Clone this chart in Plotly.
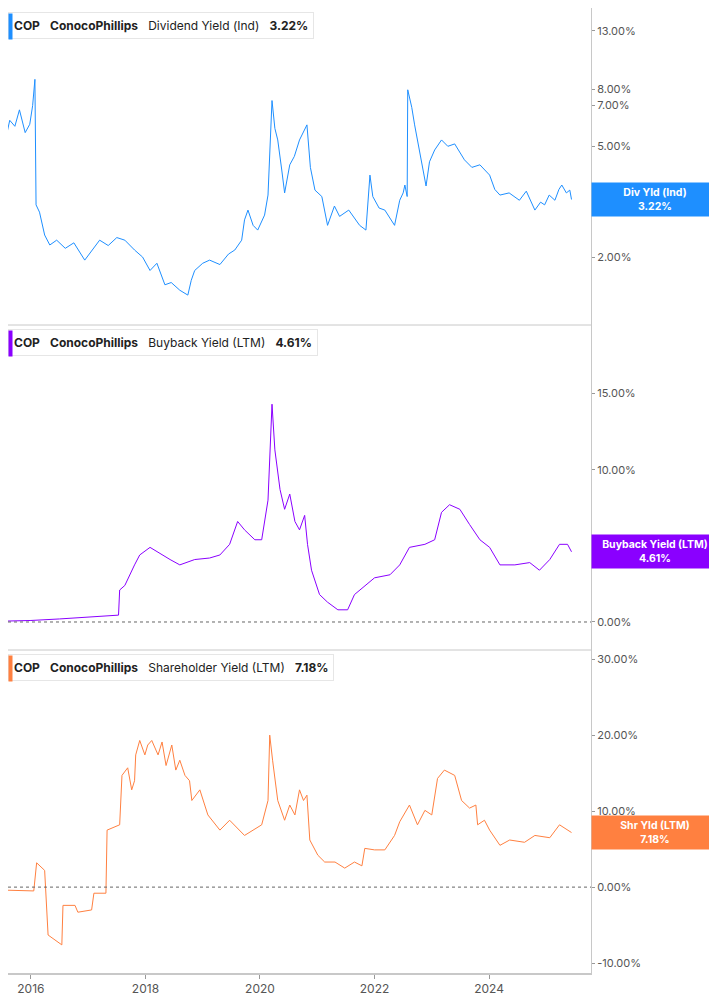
import plotly.graph_objects as go
from plotly.subplots import make_subplots
import math

# Dividend yield (Ind), % -- decimal years
div_t = [2015.46, 2015.55, 2015.63, 2015.72, 2015.8, 2015.9, 2015.98, 2016.03, 2016.07, 2016.09, 2016.15,
         2016.24, 2016.33, 2016.45, 2016.6, 2016.75, 2016.94, 2017.05, 2017.2, 2017.35, 2017.5, 2017.64,
         2017.81, 2017.95, 2018.08, 2018.2, 2018.34, 2018.45, 2018.6, 2018.74, 2018.8, 2018.86, 2019.0,
         2019.12, 2019.3, 2019.45, 2019.56, 2019.68, 2019.73, 2019.79, 2019.88, 2019.96, 2020.08, 2020.14,
         2020.17, 2020.21, 2020.26, 2020.31, 2020.38, 2020.43, 2020.52, 2020.6, 2020.69, 2020.82, 2020.88,
         2020.96, 2021.08, 2021.18, 2021.3, 2021.39, 2021.55, 2021.74, 2021.85, 2021.92, 2021.97, 2022.08,
         2022.18, 2022.35, 2022.44, 2022.5, 2022.53, 2022.57, 2022.58, 2022.65, 2022.7, 2022.84, 2022.9,
         2022.96, 2023.05, 2023.17, 2023.28, 2023.4, 2023.5, 2023.57, 2023.7, 2023.84, 2024.01, 2024.1,
         2024.19, 2024.35, 2024.53, 2024.65, 2024.8, 2024.9, 2024.97, 2025.05, 2025.15, 2025.22, 2025.27,
         2025.35, 2025.41, 2025.44]
div_v = [4.65, 5.2, 6.2, 5.9, 6.76, 5.6, 6.0, 7.0, 8.7, 3.08, 2.9,
         2.4, 2.21, 2.3, 2.15, 2.25, 1.95, 2.1, 2.3, 2.2, 2.35, 2.3,
         2.12, 2.0, 1.79, 1.9, 1.59, 1.62, 1.52, 1.46, 1.65, 1.79, 1.9,
         1.95, 1.88, 2.05, 2.12, 2.3, 2.72, 2.95, 2.6, 2.5, 2.83, 3.34,
         4.5, 7.3, 5.8, 5.27, 4.11, 3.4, 4.29, 4.6, 5.27, 5.97, 4.2,
         3.48, 3.3, 2.6, 3.05, 2.8, 2.95, 2.6, 2.5, 3.94, 3.3, 3.0,
         2.95, 2.6, 3.2, 3.4, 3.63, 3.3, 7.98, 6.9, 5.97, 4.11, 3.6,
         4.4, 4.85, 5.27, 5.0, 5.1, 4.7, 4.47, 4.2, 4.29, 3.94, 3.5,
         3.34, 3.4, 3.2, 3.45, 2.95, 3.15, 3.08, 3.34, 3.2, 3.5, 3.63,
         3.4, 3.48, 3.22]

# Buyback yield (LTM), %
bb_t = [2015.46, 2016.0, 2016.5, 2017.0, 2017.29, 2017.53, 2017.55, 2017.64, 2017.81, 2017.9, 2018.08,
        2018.25, 2018.43, 2018.6, 2018.86, 2019.12, 2019.3, 2019.47, 2019.61, 2019.73, 2019.91, 2020.03,
        2020.14, 2020.21, 2020.26, 2020.35, 2020.43, 2020.52, 2020.61, 2020.69, 2020.78, 2020.83, 2020.9,
        2021.04, 2021.18, 2021.36, 2021.53, 2021.65, 2021.83, 2022.0, 2022.27, 2022.44, 2022.61, 2022.88,
        2023.05, 2023.17, 2023.31, 2023.49, 2023.66, 2023.84, 2024.01, 2024.19, 2024.45, 2024.71, 2024.88,
        2025.06, 2025.23, 2025.37, 2025.44]
bb_v = [0.05, 0.1, 0.2, 0.3, 0.4, 0.45, 2.1, 2.4, 3.75, 4.4, 4.9,
        4.5, 4.1, 3.75, 4.1, 4.2, 4.4, 5.1, 6.6, 6.05, 5.4, 5.4,
        8.0, 14.3, 11.3, 8.7, 7.4, 8.4, 6.6, 6.05, 7.0, 5.1, 3.4,
        1.8, 1.3, 0.8, 0.8, 1.8, 2.4, 2.9, 3.1, 3.75, 4.9, 5.1,
        5.4, 7.2, 7.7, 7.4, 6.4, 5.4, 4.9, 3.75, 3.75, 3.9, 3.4,
        4.1, 5.1, 5.1, 4.61]

# Shareholder yield (LTM), %
sh_t = [2015.46, 2015.55, 2015.56, 2016.05, 2016.1, 2016.24, 2016.3, 2016.42, 2016.54, 2016.56, 2016.77,
        2016.82, 2017.06, 2017.1, 2017.31, 2017.33, 2017.55, 2017.59, 2017.69, 2017.76, 2017.81, 2017.83,
        2017.9, 2017.99, 2018.04, 2018.11, 2018.22, 2018.29, 2018.36, 2018.46, 2018.53, 2018.6, 2018.69,
        2018.77, 2018.81, 2018.95, 2019.09, 2019.3, 2019.47, 2019.73, 2020.03, 2020.14, 2020.17, 2020.22,
        2020.31, 2020.43, 2020.52, 2020.61, 2020.69, 2020.76, 2020.82, 2020.87, 2021.01, 2021.13, 2021.31,
        2021.48, 2021.65, 2021.78, 2021.83, 2022.0, 2022.18, 2022.35, 2022.44, 2022.61, 2022.75, 2022.88,
        2023.0, 2023.1, 2023.22, 2023.4, 2023.52, 2023.66, 2023.77, 2023.8, 2023.92, 2024.01, 2024.19,
        2024.36, 2024.62, 2024.8, 2025.06, 2025.23, 2025.37, 2025.44]
sh_v = [2.9, 3.3, -0.4, -0.5, 3.2, 2.2, -6.3, -7.0, -7.6, -2.4, -2.4,
        -3.3, -3.0, -0.8, -0.8, 7.5, 8.2, 14.7, 15.7, 12.8, 14.0, 17.4,
        19.3, 17.4, 18.7, 19.3, 17.4, 19.1, 16.0, 18.7, 15.4, 16.7, 14.7,
        14.0, 11.4, 12.8, 9.5, 7.5, 8.8, 6.8, 8.2, 11.4, 20.0, 16.7,
        11.4, 8.8, 10.8, 9.5, 12.8, 11.4, 12.1, 6.2, 4.2, 3.3, 3.3,
        2.5, 3.3, 2.8, 5.1, 4.9, 4.9, 6.8, 8.6, 10.8, 8.2, 10.1,
        9.5, 14.3, 15.4, 14.7, 11.4, 10.4, 10.8, 8.2, 8.8, 7.5, 5.5,
        6.2, 5.9, 6.8, 6.5, 8.2, 7.5, 7.18]

div_ticks = [2, 3, 5, 7, 8, 13]
bb_ticks = [0, 5, 10, 15]
sh_ticks = [-10, 0, 10, 20, 30]
year_ticks = [2016, 2018, 2020, 2022, 2024]

DIV_C = "#1e8fff"
BB_C = "#8a00ff"
SH_C = "#ff8040"
GRID = "#c8c8c8"
TXT = "#555555"


def pct(vals):
    return [f"{v:.2f}%" for v in vals]


fig = make_subplots(rows=3, cols=1, shared_xaxes=True, vertical_spacing=0.0)
fig.add_trace(go.Scatter(x=div_t, y=div_v, mode="lines", line=dict(color=DIV_C, width=1)), row=1, col=1)
fig.add_trace(go.Scatter(x=bb_t, y=bb_v, mode="lines", line=dict(color=BB_C, width=1)), row=2, col=1)
fig.add_trace(go.Scatter(x=sh_t, y=sh_v, mode="lines", line=dict(color=SH_C, width=1)), row=3, col=1)

doms = [[0.6715, 1.0], [0.3347, 0.6715], [0.0, 0.3347]]
yax = dict(side="right", showgrid=False, zeroline=False, showline=True, linecolor=GRID,
           ticks="outside", ticklen=3, tickcolor="#999",
           tickfont=dict(size=11, color=TXT, family="Inter"))
fig.update_layout(
    yaxis=dict(yax, domain=doms[0], type="log", range=[math.log10(1.14), math.log10(15.7)],
               tickvals=div_ticks, ticktext=pct(div_ticks)),
    yaxis2=dict(yax, domain=doms[1], range=[-1.84, 19.5], tickvals=bb_ticks, ticktext=pct(bb_ticks)),
    yaxis3=dict(yax, domain=doms[2], range=[-11.3, 31.2], tickvals=sh_ticks, ticktext=pct(sh_ticks)),
)
fig.update_xaxes(range=[2015.6, 2025.78], showgrid=False, zeroline=False, showline=True,
                 linecolor=GRID, linewidth=2, ticks="outside", tickcolor="#999", ticklen=4,
                 tickvals=year_ticks, ticktext=[str(y) for y in year_ticks],
                 tickfont=dict(size=12, color=TXT, family="Inter"))
fig.update_xaxes(showline=False, ticks="", row=1, col=1)
fig.update_xaxes(showline=False, ticks="", row=2, col=1)

# panel separators and zero lines
for yb in [doms[0][0], doms[1][0]]:
    fig.add_shape(type="line", xref="paper", yref="paper", x0=0, x1=1, y0=yb, y1=yb,
                  line=dict(color=GRID, width=1))
for r in [2, 3]:
    fig.add_hline(y=0, line=dict(color="#666", width=1, dash="dot"), row=r, col=1)

titles = [("Dividend Yield (Ind)", "3.22%", DIV_C, "Div Yld (Ind)", div_v[-1], "y"),
          ("Buyback Yield (LTM)", "4.61%", BB_C, "Buyback Yield (LTM)", bb_v[-1], "y2"),
          ("Shareholder Yield (LTM)", "7.18%", SH_C, "Shr Yld (LTM)", sh_v[-1], "y3")]
for (name, val, col, short, last, yr), dom in zip(titles, doms):
    fig.add_annotation(xref="paper", yref="paper", x=0.0, y=dom[1] - 0.004, xanchor="left", yanchor="top",
                       text=f"<b>COP</b>   <b>ConocoPhillips</b>   {name}   <b>{val}</b>",
                       showarrow=False, bgcolor="white", bordercolor="#e6e6e6", borderwidth=1, borderpad=5,
                       font=dict(size=12, color="#222", family="Inter"))
    # coloured marker bar at the left of the header box
    fig.add_annotation(xref="paper", yref="paper", x=0.0, y=dom[1] - 0.005, xanchor="left", yanchor="top",
                       text=" ", showarrow=False, bgcolor=col, width=3, height=25, borderpad=0,
                       font=dict(size=2))
    ly = math.log10(last) if yr == "y" else last
    fig.add_annotation(xref="paper", yref=yr, x=1.0, y=ly, xanchor="left", yanchor="middle",
                       text=f"<b>{short}<br>{val}</b>", showarrow=False, bgcolor=col, width=120,
                       borderpad=3, align="center", font=dict(size=10.5, color="white", family="Inter"))

fig.update_layout(width=717, height=990, margin=dict(l=0, r=134, t=0, b=25),
                  plot_bgcolor="white", paper_bgcolor="white", showlegend=False)
fig.write_html("out.html")
